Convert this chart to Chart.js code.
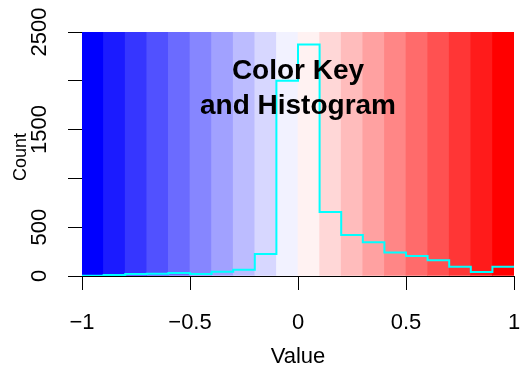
<!DOCTYPE html>
<html>
<head>
<meta charset="utf-8">
<script src="https://cdn.jsdelivr.net/npm/chart.js@4/dist/chart.umd.min.js"></script>
<style>
  html, body { margin: 0; padding: 0; background: #ffffff; }
  #wrap { width: 521px; height: 374px; }
</style>
</head>
<body>
<div id="wrap"><canvas id="c" width="521" height="374"></canvas></div>
<script>
// ---- data ----
const binStarts = [-1, -0.9, -0.8, -0.7, -0.6, -0.5, -0.4, -0.3, -0.2, -0.1,
                   0, 0.1, 0.2, 0.3, 0.4, 0.5, 0.6, 0.7, 0.8, 0.9];
const binEnd = 1;
const counts = [3, 10, 20, 24, 30, 20, 44, 65, 225, 2000,
                2372, 656, 420, 345, 240, 205, 161, 95, 41, 95];
const keyColors = ['#0000FF','#1B1BFF','#3636FF','#5151FF','#6B6BFF','#8686FF','#A1A1FF','#BCBCFF','#D7D7FF','#F2F2FF',
                   '#FFF2F2','#FFD7D7','#FFBCBC','#FFA1A1','#FF8686','#FF6B6B','#FF5151','#FF3636','#FF1B1B','#FF0000'];
const xTicks = [-1, -0.5, 0, 0.5, 1];
const yTicks = [0, 500, 1000, 1500, 2000, 2500];
const yTickLabels = [0, 500, 1500, 2500];
const yMax = 2500;
const titleLines = ['Color Key', 'and Histogram'];
const xTitle = 'Value';
const yTitle = 'Count';

// ---- derived chart structures ----
const binWidth = binStarts[1] - binStarts[0];
const keyBars = binStarts.map(s => ({ x: s + binWidth / 2, y: [0, yMax] }));
const stepPts = binStarts.map((s, i) => ({ x: s, y: counts[i] }));
stepPts.push({ x: binEnd, y: counts[counts.length - 1] });

const FONT = '"Liberation Sans", Arial, Helvetica, sans-serif';
const fmt = v => (v < 0 ? '\u2212' + String(-v) : String(v));

const overlayPlugin = {
  id: 'overlay',
  afterDraw(chart) {
    const ctx = chart.ctx;
    const ys = chart.scales.y;
    const area = chart.chartArea;
    ctx.save();
    ctx.fillStyle = '#000000';
    // rotated y tick labels
    ctx.font = '22px ' + FONT;
    ctx.textAlign = 'center';
    ctx.textBaseline = 'middle';
    yTickLabels.forEach(v => {
      const py = ys.getPixelForValue(v);
      ctx.save();
      ctx.translate(area.left - 42, py);
      ctx.rotate(-Math.PI / 2);
      ctx.fillText(String(v), 0, 0);
      ctx.restore();
    });
    // y axis title
    ctx.font = '18px ' + FONT;
    ctx.textBaseline = 'alphabetic';
    ctx.save();
    ctx.translate(area.left - 56, (area.top + area.bottom) / 2 + 3);
    ctx.rotate(-Math.PI / 2);
    ctx.fillText(yTitle, 0, 0);
    ctx.restore();
    // title inside the plot
    ctx.font = 'bold 28px ' + FONT;
    const cx = (area.left + area.right) / 2;
    ctx.fillText(titleLines[0], cx, area.top + 47);
    ctx.fillText(titleLines[1], cx, area.top + 82);
    ctx.restore();
  }
};

new Chart(document.getElementById('c'), {
  type: 'bar',
  data: {
    datasets: [
      {
        type: 'line',
        data: stepPts,
        stepped: 'before',
        borderColor: '#00FFFF',
        borderWidth: 2,
        pointRadius: 0,
        fill: false,
        order: 0
      },
      {
        type: 'bar',
        data: keyBars,
        backgroundColor: keyColors,
        borderWidth: 0,
        barPercentage: 1,
        categoryPercentage: 1,
        grouped: false,
        order: 1
      }
    ]
  },
  options: {
    responsive: false,
    animation: false,
    events: [],
    layout: { padding: { top: 32, right: 7, left: 0, bottom: 0 } },
    plugins: {
      legend: { display: false },
      tooltip: { enabled: false },
      title: { display: false }
    },
    scales: {
      x: {
        type: 'linear',
        min: -1,
        max: 1,
        offset: false,
        afterBuildTicks: s => { s.ticks = xTicks.map(v => ({ value: v })); },
        afterFit: s => { s.height = 98; s.paddingLeft = 0; s.paddingRight = 0; },
        grid: {
          display: true,
          drawOnChartArea: false,
          drawTicks: true,
          tickLength: 14,
          color: '#000000',
          lineWidth: 1,
          offset: false
        },
        border: { display: true, color: '#000000', width: 1 },
        ticks: {
          color: '#000000',
          font: { family: FONT, size: 22 },
          padding: 20,
          maxRotation: 0,
          autoSkip: false,
          callback: v => fmt(v)
        },
        title: {
          display: true,
          text: xTitle,
          color: '#000000',
          font: { family: FONT, size: 22 },
          padding: { top: 0, bottom: 4 }
        }
      },
      y: {
        type: 'linear',
        min: 0,
        max: yMax,
        afterBuildTicks: s => { s.ticks = yTicks.map(v => ({ value: v })); },
        afterFit: s => { s.width = 82; s.paddingTop = 0; s.paddingBottom = 0; },
        grid: {
          display: true,
          drawOnChartArea: false,
          drawTicks: true,
          tickLength: 14,
          color: '#000000',
          lineWidth: 1
        },
        border: { display: true, color: '#000000', width: 1 },
        ticks: { display: false },
        title: { display: false }
      }
    }
  },
  plugins: [overlayPlugin]
});
</script>
</body>
</html>
